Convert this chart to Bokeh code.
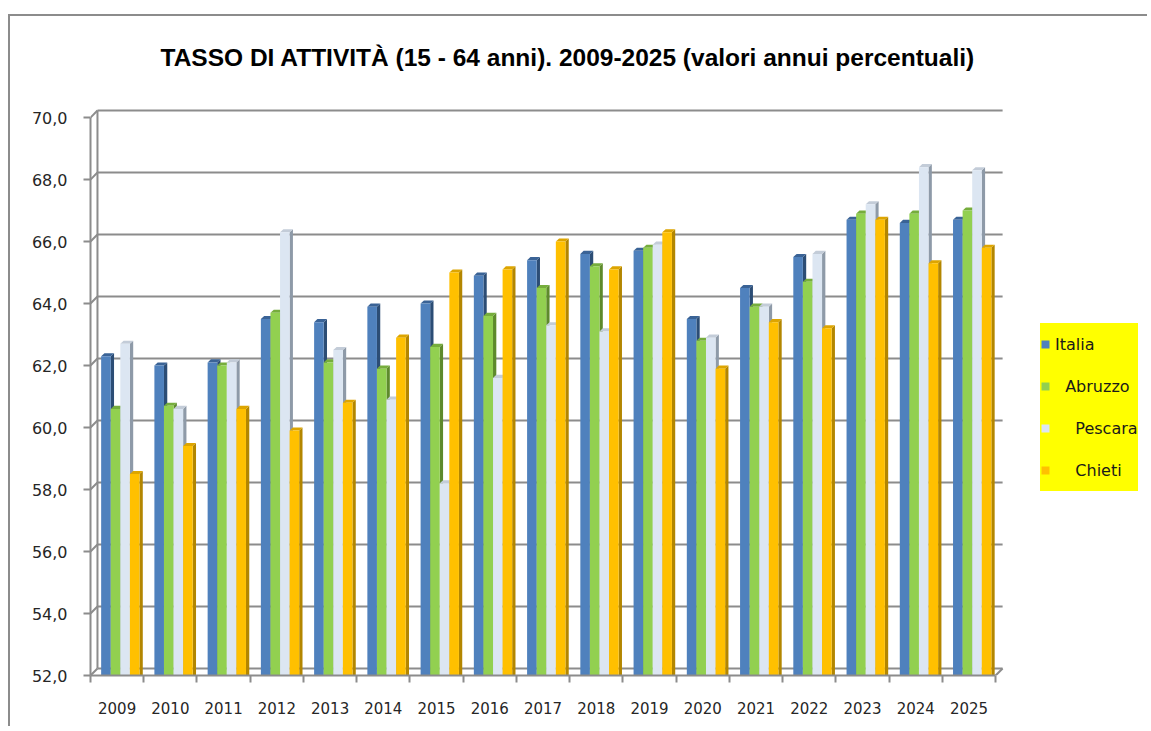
import numpy as np
from bokeh.plotting import figure
from bokeh.models import FixedTicker, Legend, LegendItem, ColumnDataSource
from bokeh.core.properties import value
from bokeh.embed import file_html
from bokeh.resources import INLINE

years = ["2009", "2010", "2011", "2012", "2013", "2014", "2015", "2016", "2017",
         "2018", "2019", "2020", "2021", "2022", "2023", "2024", "2025"]
italia = [62.3, 62.0, 62.1, 63.5, 63.4, 63.9, 64.0, 64.9, 65.4, 65.6, 65.7, 63.5, 64.5, 65.5, 66.7, 66.6, 66.7]
abruzzo = [60.6, 60.7, 62.0, 63.7, 62.1, 61.9, 62.6, 63.6, 64.5, 65.2, 65.8, 62.8, 63.9, 64.7, 66.9, 66.9, 67.0]
pescara = [62.7, 60.6, 62.1, 66.3, 62.5, 60.9, 58.2, 61.6, 63.3, 63.1, 65.9, 62.9, 63.9, 65.6, 67.2, 68.4, 68.3]
chieti = [58.5, 59.4, 60.6, 59.9, 60.8, 62.9, 65.0, 65.1, 66.0, 65.1, 66.3, 61.9, 63.4, 63.2, 66.7, 65.3, 65.8]
series_names = ["Italia", "Abruzzo", "Pescara", "Chieti"]
legend_labels = ["Italia", "\u00a0\u00a0Abruzzo", "\u00a0\u00a0\u00a0\u00a0Pescara", "\u00a0\u00a0\u00a0\u00a0Chieti"]
y_ticks = [52, 54, 56, 58, 60, 62, 64, 66, 68, 70]
y_tick_labels = ["52,0", "54,0", "56,0", "58,0", "60,0", "62,0", "64,0", "66,0", "68,0", "70,0"]
title_text = "TASSO DI ATTIVITÀ (15 - 64 anni). 2009-2025  (valori annui percentuali)"

front_colors = ["#4F81BD", "#92D050", "#DCE6F2", "#FFC000"]
side_colors = ["#2C4D75", "#5E8A2C", "#8E9AA8", "#B38600"]
top_colors = ["#3A6396", "#76AD3C", "#C3CCD8", "#DDA500"]

base = 52.0
ytop = 73.26
n = len(years)
bar_w = 0.18
start = 0.2
depth_x = 0.062
depth_y = 0.1
wall_dx = 0.131
wall_dy = 0.226
x_end = 19.89

p = figure(width=1139, height=712, output_backend="svg", toolbar_location=None,
           x_range=(0, x_end), y_range=(base, ytop),
           min_border_left=80, min_border_right=0, min_border_top=0, min_border_bottom=53)
p.outline_line_color = None
p.background_fill_color = "white"
p.border_fill_color = "white"
p.xgrid.visible = False
p.ygrid.visible = False
p.styles = {"border-left": "2px solid #8c8c8c", "border-top": "2px solid #8c8c8c",
            "margin-left": "8px", "margin-top": "14px"}

grid_color = "#8c8c8c"
# back wall gridlines
gt = np.array(y_ticks, dtype=float)
p.segment(x0=np.full(len(gt), wall_dx), y0=gt + wall_dy, x1=np.full(len(gt), n + wall_dx), y1=gt + wall_dy,
          line_color=grid_color, line_width=2)
p.segment(x0=np.zeros(len(gt)), y0=gt, x1=np.full(len(gt), wall_dx), y1=gt + wall_dy,
          line_color=grid_color, line_width=2)
p.segment(x0=[wall_dx], y0=[base + wall_dy], x1=[wall_dx], y1=[y_ticks[-1] + wall_dy],
          line_color=grid_color, line_width=2)
p.segment(x0=[n], y0=[base], x1=[n + wall_dx], y1=[base + wall_dy], line_color=grid_color, line_width=2)

idx = np.arange(n)
front_renderers = []
for k, vals in enumerate([italia, abruzzo, pescara, chieti]):
    v = np.array(vals, dtype=float)
    x0 = idx + start + bar_w * k
    x1 = x0 + bar_w
    side_xs = [[a, a, a + depth_x, a + depth_x] for a in x1]
    side_ys = [[base, t, t + depth_y, base] for t in v]
    top_xs = [[a, b, b + depth_x, a + depth_x] for a, b in zip(x0, x1)]
    top_ys = [[t, t, t + depth_y, t + depth_y] for t in v]
    p.patches(xs=side_xs, ys=side_ys, fill_color=side_colors[k], line_color=None)
    p.patches(xs=top_xs, ys=top_ys, fill_color=top_colors[k], line_color=None)
    src = ColumnDataSource(dict(left=x0, right=x1, top=v, bottom=np.full(n, base)))
    r = p.quad(left="left", right="right", top="top", bottom="bottom", source=src,
               fill_color=front_colors[k], line_color=None)
    front_renderers.append(r)

# title (drawn inside the frame, above the chart area)
p.text(x=[1.315], y=[71.935], text=[title_text], text_align="left", text_baseline="middle",
       text_font=value("Liberation Sans"), text_font_style="bold",
       text_font_size=value("24.5px"), text_color="#000000")

# y axis
p.yaxis.ticker = FixedTicker(ticks=y_ticks)
p.yaxis.bounds = (y_ticks[0], y_ticks[-1])
p.yaxis.major_label_overrides = {t: lab for t, lab in zip(y_ticks, y_tick_labels)}
p.yaxis.axis_line_color = grid_color
p.yaxis.axis_line_width = 2
p.yaxis.major_tick_line_color = grid_color
p.yaxis.major_tick_line_width = 2
p.yaxis.major_tick_out = 7
p.yaxis.major_tick_in = 0
p.yaxis.minor_tick_line_color = None
p.yaxis.major_label_standoff = 16
p.yaxis.major_label_text_font = "DejaVu Sans"
p.yaxis.major_label_text_font_size = "16px"
p.yaxis.major_label_text_color = "#262626"

# x axis
centers = [i + 0.5 for i in range(n)]
p.xaxis.ticker = FixedTicker(ticks=centers, minor_ticks=list(range(n + 1)))
p.xaxis.bounds = (0, n)
p.xaxis.major_label_overrides = {c: y for c, y in zip(centers, years)}
p.xaxis.axis_line_color = grid_color
p.xaxis.axis_line_width = 2
p.xaxis.major_tick_line_color = None
p.xaxis.major_tick_out = 0
p.xaxis.major_tick_in = 0
p.xaxis.minor_tick_line_color = grid_color
p.xaxis.minor_tick_line_width = 2
p.xaxis.minor_tick_out = 7
p.xaxis.minor_tick_in = 0
p.xaxis.major_label_standoff = 19
p.xaxis.major_label_text_font = "DejaVu Sans"
p.xaxis.major_label_text_font_size = "15px"
p.xaxis.major_label_text_color = "#262626"

# legend
items = [LegendItem(label=lab, renderers=[r]) for lab, r in zip(legend_labels, front_renderers)]
legend = Legend(items=items, location=(950, 184))
legend.background_fill_color = "#FFFF00"
legend.background_fill_alpha = 1.0
legend.border_line_color = None
legend.glyph_width = 10
legend.glyph_height = 10
legend.label_height = 42
legend.spacing = 0
legend.padding = 10
legend.margin = 0
legend.label_standoff = 5
legend.label_text_font = "DejaVu Sans"
legend.label_text_font_size = "16px"
legend.label_text_color = "#1a1a1a"
p.add_layout(legend, "center")

open("out.html", "w").write(file_html(p, INLINE))
